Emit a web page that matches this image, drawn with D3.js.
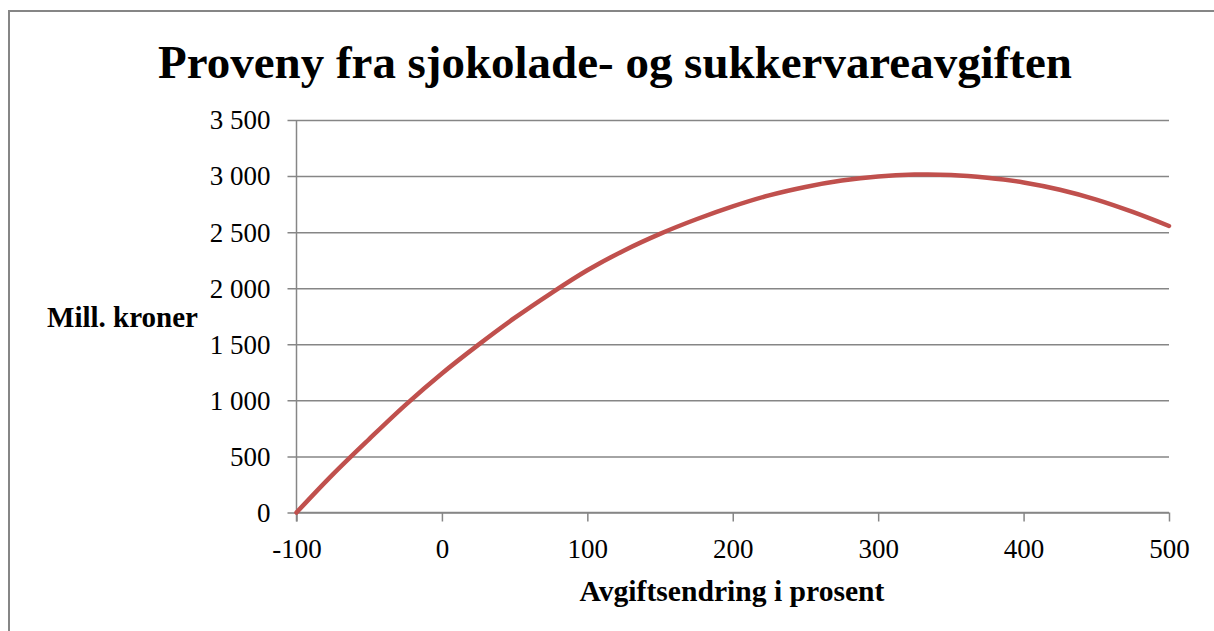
<!DOCTYPE html>
<html>
<head>
<meta charset="utf-8">
<title>Proveny fra sjokolade- og sukkervareavgiften</title>
<style>
  body { margin: 0; background: #fff; }
  svg text { font-family: "Liberation Serif", "Times New Roman", serif; fill: #000; }
</style>
</head>
<body>
<script src="https://cdn.jsdelivr.net/npm/d3@7/dist/d3.min.js"></script>
<script>
// values
var avgiftsendring = [-100, -75, -50, -25, 0, 25, 50, 75, 100, 125, 150, 175, 200,
                      225, 250, 275, 300, 325, 350, 375, 400, 425, 450, 475, 500];
var proveny = [0, 340, 655, 960, 1240, 1495, 1735, 1955, 2160, 2335, 2485, 2615, 2730,
               2828, 2903, 2960, 2997, 3013, 3010, 2985, 2943, 2878, 2790, 2680, 2555];
var xTicks = [-100, 0, 100, 200, 300, 400, 500];
var yTicks = [0, 500, 1000, 1500, 2000, 2500, 3000, 3500];

var title = "Proveny fra sjokolade- og sukkervareavgiften";
var xTitle = "Avgiftsendring i prosent";
var yTitle = "Mill. kroner";

var W = 1214, H = 631;
var margin = {top: 120, right: 45, bottom: 118.5, left: 296.5};
var width = W - margin.left - margin.right,
    height = H - margin.top - margin.bottom;
var grey = "#868686";
var serif = '"Liberation Serif", "Times New Roman", serif';

var svg = d3.select("body").append("svg")
    .attr("width", W)
    .attr("height", H);

// chart area border (runs off the right and bottom edge)
svg.append("rect")
    .attr("x", 9).attr("y", 11)
    .attr("width", W + 20).attr("height", H + 20)
    .attr("fill", "none")
    .attr("stroke", grey)
    .attr("stroke-width", 2);

var x = d3.scaleLinear().domain([-100, 500]).range([0, width]);
var y = d3.scaleLinear().domain([0, 3500]).range([height, 0]);

var g = svg.append("g")
    .attr("transform", "translate(" + margin.left + "," + margin.top + ")");

// y axis with gridlines
var fmt = function(d) { return d3.format(",")(d).replace(/,/g, " "); };
var yAxis = g.append("g")
    .call(d3.axisLeft(y).tickValues(yTicks).tickSize(-width).tickFormat(fmt).tickPadding(26));
yAxis.attr("font-family", serif).attr("font-size", 27);
yAxis.select(".domain").remove();
yAxis.selectAll(".tick line").attr("stroke", grey).attr("stroke-width", 1.5)
    .attr("x1", -9);
yAxis.selectAll(".tick text")
    .style("font-family", serif).style("font-size", "27px").attr("dy", "0.33em");

// x axis
var xAxis = g.append("g")
    .attr("transform", "translate(0," + height + ")")
    .call(d3.axisBottom(x).tickValues(xTicks).tickSize(9).tickPadding(17)
        .tickFormat(function(d) { return String(d); }));
xAxis.attr("font-family", serif).attr("font-size", 27);
xAxis.select(".domain").attr("stroke", grey).attr("stroke-width", 1.5)
    .attr("d", "M0,0H" + width);
xAxis.selectAll(".tick line").attr("stroke", grey).attr("stroke-width", 1.5);
xAxis.selectAll(".tick text")
    .style("font-family", serif).style("font-size", "27px");

// vertical axis line
g.append("line")
    .attr("x1", 0).attr("x2", 0)
    .attr("y1", 0).attr("y2", height + 9)
    .attr("stroke", grey).attr("stroke-width", 1.5);

// the curve
var line = d3.line()
    .x(function(d, i) { return x(avgiftsendring[i]); })
    .y(function(d) { return y(d); })
    .curve(d3.curveCatmullRom);

g.append("path")
    .datum(proveny)
    .attr("fill", "none")
    .attr("stroke", "#C0504D")
    .attr("stroke-width", 4.5)
    .attr("stroke-linecap", "round")
    .attr("d", line);

// scale a text so it spans the given width
function fitText(t, target) {
    var fs = parseFloat(t.style("font-size"));
    var w = t.node().getComputedTextLength();
    t.style("font-size", (fs * target / w) + "px");
}

var tt = svg.append("text")
    .attr("x", 615).attr("y", 78)
    .attr("text-anchor", "middle")
    .style("font-family", serif)
    .style("font-size", "44px")
    .style("font-weight", "bold")
    .text(title);
fitText(tt, 914);

var xt = svg.append("text")
    .attr("x", 732).attr("y", 601)
    .attr("text-anchor", "middle")
    .style("font-family", serif)
    .style("font-size", "24px")
    .style("font-weight", "bold")
    .text(xTitle);
fitText(xt, 305);

var yt = svg.append("text")
    .attr("x", 47).attr("y", 327)
    .style("font-family", serif)
    .style("font-size", "24px")
    .style("font-weight", "bold")
    .text(yTitle);
fitText(yt, 151);
</script>
</body>
</html>
